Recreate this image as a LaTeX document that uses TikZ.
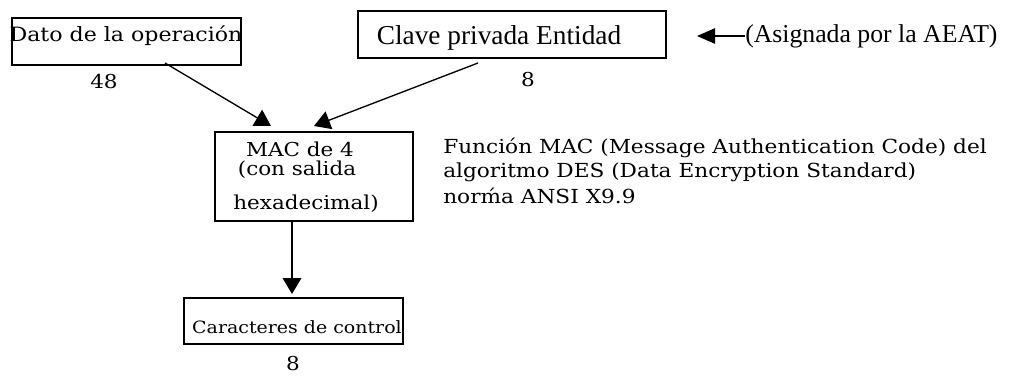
\documentclass[tikz,border=0pt]{standalone}
\usepackage{fontspec}
\setmainfont{DejaVu Serif}[FakeStretch=1.12]
\newfontfamily\timesfont{Liberation Serif}
\usetikzlibrary{arrows.meta}

\begin{document}
\begin{tikzpicture}[x=0.75pt, y=-0.75pt,
    box/.style={draw, line width=1pt, inner sep=0pt},
    txt/.style={inner sep=0pt, font=\fontsize{14.4}{17}\selectfont},
    flecha/.style={line width=1pt, -{Triangle[length=12pt, width=14pt]}}]
    \useasboundingbox (0, 0) rectangle (1010, 376);

    % Boxes
    \node[box, minimum width=171.75pt, minimum height=35.25pt] (dato) at (126.5, 41.5) {};
    \node[box, minimum width=231pt, minimum height=35.25pt] (clave) at (512, 34.5) {};
    \node[box, minimum width=148.5pt, minimum height=66.75pt] (mac) at (314, 176.5) {};
    \node[box, minimum width=164.25pt, minimum height=34.5pt] (ctrl) at (293.5, 321) {};

    % Texts in the boxes
    \node[txt, font=\fontsize{14.8}{17}\selectfont] (datotxt) at (126, 36) {Dato de la operación};
    \node[txt, font=\timesfont\fontsize{20.5}{24}\selectfont] (clavetxt) at (499, 38) {Clave privada Entidad};
    \node[txt] (mac1) at (300, 149) {MAC de 4};
    \node[txt] (mac2) at (297, 170) {(con salida};
    \node[txt] (mac3) at (306, 204) {hexadecimal)};
    \node[txt, font=\fontsize{12.7}{15}\selectfont] (ctrltxt) at (297, 327) {Caracteres de control};

    % Lengths
    \node[txt] (n48) at (104, 82) {48};
    \node[txt] (n8a) at (528, 80) {8};
    \node[txt] (n8b) at (293, 364) {8};

    % Note on the key
    \node[txt, anchor=west, font=\timesfont\fontsize{19.3}{22}\selectfont] (aeat) at (745, 36) {(Asignada por la AEAT)};

    % Description of the MAC function
    \foreach \y/\texto [count=\i] in {148/{Función MAC (Message Authentication Code) del},
        172/{algoritmo DES (Data Encryption Standard)}, 196/{norḿa ANSI X9.9}} {
        \node[txt, anchor=west, font=\fontsize{14.5}{17}\selectfont] (func\i) at (443, \y) {\texto};
    }

    % Connector ends
    \coordinate (s1) at (165, 63);
    \coordinate (e1) at (271, 126);
    \coordinate (s2) at (478, 63);
    \coordinate (e2) at (314, 126);
    \coordinate (s3) at (292, 221);
    \coordinate (e3) at (292, 294);
    \coordinate (e4) at (697, 36);

    % Arrows
    \draw[flecha] (s1) -- (e1);
    \draw[flecha] (s2) -- (e2);
    \draw[flecha] (s3) -- (e3);
    \draw[flecha, -{Triangle[length=13.5pt, width=11.5pt]}] (aeat.west) -- (e4);
\end{tikzpicture}
\end{document}
